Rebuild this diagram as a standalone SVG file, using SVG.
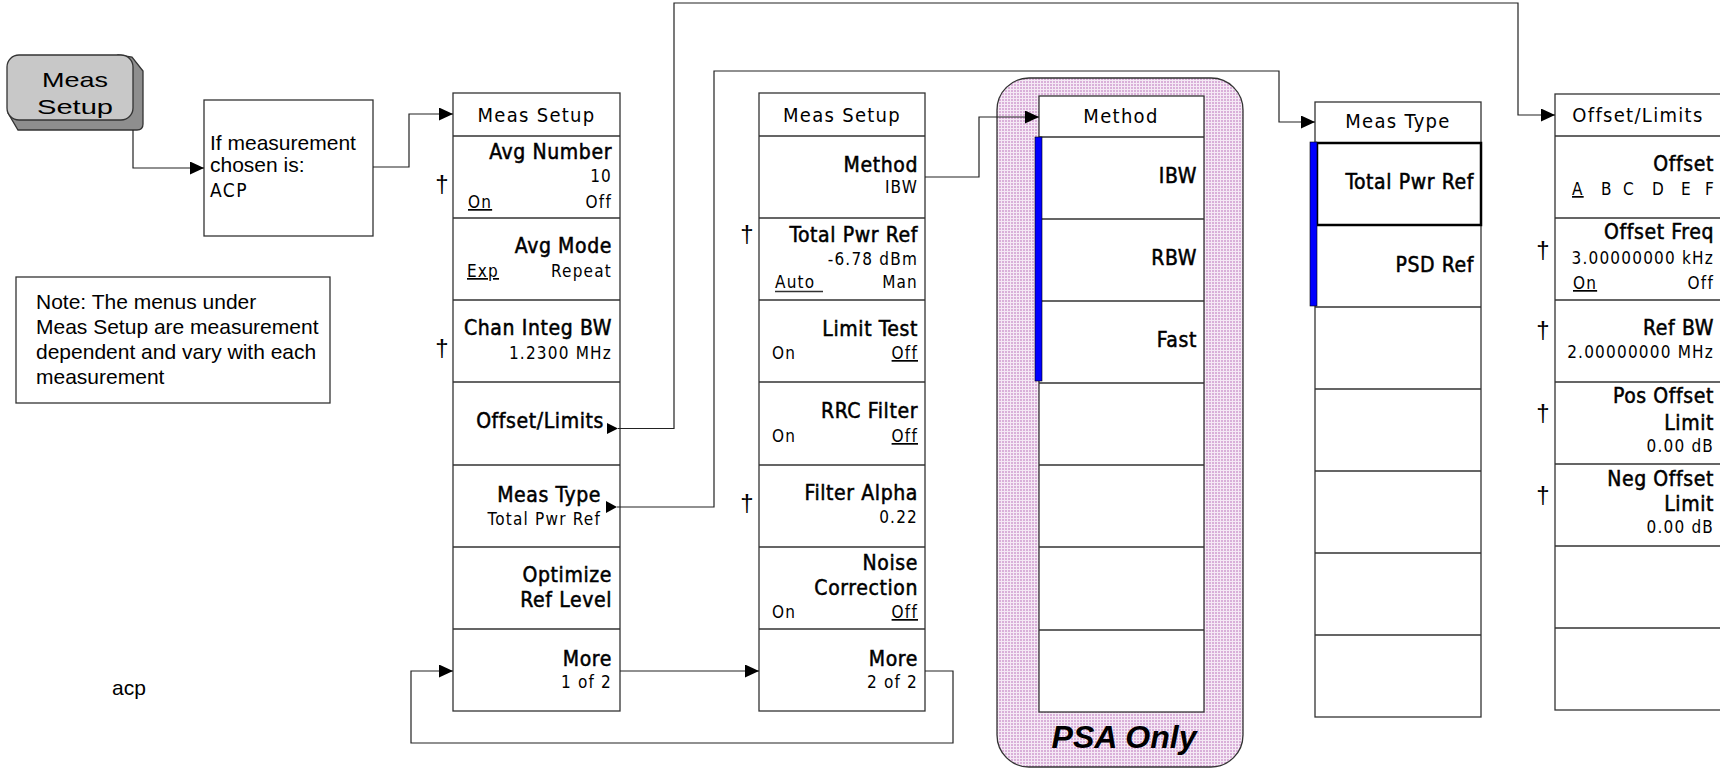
<svg xmlns="http://www.w3.org/2000/svg" width="1720" height="769" viewBox="0 0 1720 769">
<defs>
<pattern id="pk" width="3" height="3" patternUnits="userSpaceOnUse"><rect width="3" height="3" fill="#f5e9f5"/><rect width="2" height="2" fill="#d9b0d9"/></pattern>
<marker id="ar" markerWidth="15" markerHeight="13" refX="14" refY="6.5" orient="auto" markerUnits="userSpaceOnUse"><path d="M0,0 L14,6.5 L0,13 Z" fill="#000"/></marker>
</defs>
<style>
.mb{fill:#fff;stroke:#333;stroke-width:1.3}
.ln{stroke:#333;stroke-width:1.3}
.cn{fill:none;stroke:#222;stroke-width:1.2;marker-end:url(#ar)}
.ar{font-family:'Liberation Sans',Arial,sans-serif;font-size:21px;fill:#000}
.hd{font-family:'DejaVu Sans Condensed','DejaVu Sans',sans-serif;font-stretch:condensed;font-size:20px;letter-spacing:1.3px;text-anchor:middle;fill:#000}
.lb{font-family:'DejaVu Sans Condensed','DejaVu Sans',sans-serif;font-stretch:condensed;font-size:21px;letter-spacing:0.6px;text-anchor:end;fill:#000;stroke:#000;stroke-width:0.5px}
.v{font-family:'DejaVu Sans Condensed','DejaVu Sans',sans-serif;font-stretch:condensed;font-size:17px;letter-spacing:1.2px;text-anchor:end;fill:#000}
.vl{text-anchor:start}
.u{text-decoration:underline}
.dg{font-family:'Liberation Sans',Arial,sans-serif;font-size:24px;text-anchor:middle;fill:#000}
.blue{fill:#0000ff;stroke:#000;stroke-width:0.6}
</style>

<g id="meas-setup-key">
<path d="M118,55 L132,57 L143,71 L143,124 Q143,130 137,130 L18,130 L8,113 Z" fill="#8e8e8e" stroke="#333" stroke-width="1.3"/>
<rect x="7" y="55" width="126" height="65" rx="12" fill="#c8c8c8" stroke="#333" stroke-width="1.3"/>
<text class="ar" x="75" y="87" font-size="22" text-anchor="middle" textLength="66" lengthAdjust="spacingAndGlyphs">Meas</text>
<text class="ar" x="75" y="114" font-size="22" text-anchor="middle" textLength="76" lengthAdjust="spacingAndGlyphs">Setup</text>
</g>

<g id="condition-box">
<rect x="204" y="100" width="169" height="136" fill="#fff" stroke="#333" stroke-width="1.3"/>
<text class="ar" x="210" y="150">If measurement</text>
<text class="ar" x="210" y="172">chosen is:</text>
<text class="hd" x="210" y="197" style="text-anchor:start;font-size:19px;letter-spacing:1.5px">ACP</text>
</g>

<g id="note-box">
<rect x="16" y="277" width="314" height="126" fill="#fff" stroke="#333" stroke-width="1.3"/>
<text class="ar" x="36" y="309">Note: The menus under</text>
<text class="ar" x="36" y="334">Meas Setup are measurement</text>
<text class="ar" x="36" y="359">dependent and vary with each</text>
<text class="ar" x="36" y="384">measurement</text>
</g>

<g id="acp-label">
<text class="ar" x="112" y="695" font-size="15">acp</text>
</g>

<g id="psa-region">
<rect x="997" y="78" width="246" height="689" rx="32" fill="url(#pk)" stroke="#333" stroke-width="1.3"/>
<text x="1124" y="748" font-family="'Liberation Sans',Arial,sans-serif" font-size="31" font-weight="bold" font-style="italic" text-anchor="middle" textLength="145" lengthAdjust="spacingAndGlyphs">PSA Only</text>
</g>

<g id="menu-meas-setup-1">
<rect class="mb" x="453" y="93" width="167" height="618"/>
<path class="ln" d="M453,136H620M453,218H620M453,300H620M453,382H620M453,465H620M453,547H620M453,629H620"/>
<text class="hd" x="536.5" y="122">Meas Setup</text>
<text class="dg" x="442" y="192">†</text>
<text class="lb" x="612" y="159">Avg Number</text>
<text class="v" x="612" y="182">10</text>
<text class="v vl u" x="468" y="208">On</text>
<text class="v" x="612" y="208">Off</text>
<text class="lb" x="612" y="253">Avg Mode</text>
<text class="v vl u" x="467" y="277">Exp</text>
<text class="v" x="612" y="277">Repeat</text>
<text class="dg" x="442" y="356">†</text>
<text class="lb" x="612" y="335">Chan Integ BW</text>
<text class="v" x="612" y="359">1.2300 MHz</text>
<text class="lb" x="604" y="428">Offset/Limits</text>
<path d="M607,423 L618,428.5 L607,434 Z" fill="#000"/>
<text class="lb" x="601" y="502">Meas Type</text>
<text class="v" x="601" y="525">Total Pwr Ref</text>
<path d="M606,501 L617,507 L606,513 Z" fill="#000"/>
<text class="lb" x="612" y="582">Optimize</text>
<text class="lb" x="612" y="607">Ref Level</text>
<text class="lb" x="612" y="666">More</text>
<text class="v" x="612" y="688">1 of 2</text>
</g>

<g id="menu-meas-setup-2">
<rect class="mb" x="759" y="93" width="166" height="618"/>
<path class="ln" d="M759,136H925M759,218H925M759,300H925M759,382H925M759,465H925M759,547H925M759,629H925"/>
<text class="hd" x="842" y="122">Meas Setup</text>
<text class="lb" x="918" y="172">Method</text>
<text class="v" x="918" y="193">IBW</text>
<text class="dg" x="747" y="242">†</text>
<text class="lb" x="918" y="242">Total Pwr Ref</text>
<text class="v" x="918" y="265">-6.78 dBm</text>
<text class="v vl" x="775" y="288">Auto</text>
<path class="ln" d="M775,291.5H823" stroke-width="1.2"/>
<text class="v" x="918" y="288">Man</text>
<text class="lb" x="918" y="336">Limit Test</text>
<text class="v vl" x="772" y="359">On</text>
<text class="v u" x="918" y="359">Off</text>
<text class="lb" x="918" y="418">RRC Filter</text>
<text class="v vl" x="772" y="442">On</text>
<text class="v u" x="918" y="442">Off</text>
<text class="dg" x="747" y="511">†</text>
<text class="lb" x="918" y="500">Filter Alpha</text>
<text class="v" x="918" y="523">0.22</text>
<text class="lb" x="918" y="570">Noise</text>
<text class="lb" x="918" y="595">Correction</text>
<text class="v vl" x="772" y="618">On</text>
<text class="v u" x="918" y="618">Off</text>
<text class="lb" x="918" y="666">More</text>
<text class="v" x="918" y="688">2 of 2</text>
</g>

<g id="menu-method">
<rect class="mb" x="1039" y="96" width="165" height="616"/>
<path class="ln" d="M1039,137H1204M1039,219H1204M1039,301H1204M1039,383H1204M1039,465H1204M1039,547H1204M1039,630H1204"/>
<rect class="blue" x="1035" y="137" width="7" height="244"/>
<text class="hd" x="1121" y="123">Method</text>
<text class="lb" x="1197" y="183">IBW</text>
<text class="lb" x="1197" y="265">RBW</text>
<text class="lb" x="1197" y="347">Fast</text>
</g>

<g id="menu-meas-type">
<rect class="mb" x="1315" y="102" width="166" height="615"/>
<path class="ln" d="M1315,143H1481M1315,225H1481M1315,307H1481M1315,389H1481M1315,471H1481M1315,553H1481M1315,635H1481"/>
<rect x="1317" y="143" width="164" height="82" fill="none" stroke="#000" stroke-width="2.5"/>
<rect class="blue" x="1310" y="142" width="7" height="164"/>
<text class="hd" x="1398" y="128">Meas Type</text>
<text class="lb" x="1474" y="189">Total Pwr Ref</text>
<text class="lb" x="1474" y="272">PSD Ref</text>
</g>

<g id="menu-offset-limits">
<rect class="mb" x="1555" y="94" width="167" height="616"/>
<path class="ln" d="M1555,136H1722M1555,218H1722M1555,300H1722M1555,382H1722M1555,464H1722M1555,546H1722M1555,628H1722"/>
<text class="hd" x="1638" y="122">Offset/Limits</text>
<text class="lb" x="1714" y="171">Offset</text>
<text class="v vl u" x="1572" y="195">A</text>
<text class="v vl" x="1601" y="195">B</text>
<text class="v vl" x="1623" y="195">C</text>
<text class="v vl" x="1652" y="195">D</text>
<text class="v vl" x="1681" y="195">E</text>
<text class="v vl" x="1705" y="195">F</text>
<text class="dg" x="1543" y="258">†</text>
<text class="lb" x="1714" y="239">Offset Freq</text>
<text class="v" x="1714" y="264">3.00000000 kHz</text>
<text class="v vl u" x="1573" y="289">On</text>
<text class="v" x="1714" y="289">Off</text>
<text class="dg" x="1543" y="338">†</text>
<text class="lb" x="1714" y="335">Ref BW</text>
<text class="v" x="1714" y="358">2.00000000 MHz</text>
<text class="dg" x="1543" y="421">†</text>
<text class="lb" x="1714" y="403">Pos Offset</text>
<text class="lb" x="1714" y="430">Limit</text>
<text class="v" x="1714" y="452">0.00 dB</text>
<text class="dg" x="1543" y="503">†</text>
<text class="lb" x="1714" y="486">Neg Offset</text>
<text class="lb" x="1714" y="511">Limit</text>
<text class="v" x="1714" y="533">0.00 dB</text>
</g>

<g id="connectors">
<path class="cn" d="M133,130V168H204"/>
<path class="cn" d="M373,167H409V114H453"/>
<path class="cn" d="M618,428.5H674V3H1518V115H1555"/>
<path class="cn" d="M617,507H714V71H1279V122H1315"/>
<path class="cn" d="M925,177H979V117H1039"/>
<path class="cn" d="M620,671H759"/>
<path class="cn" d="M925,671H953V743H411V671H453"/>
</g>
</svg>
